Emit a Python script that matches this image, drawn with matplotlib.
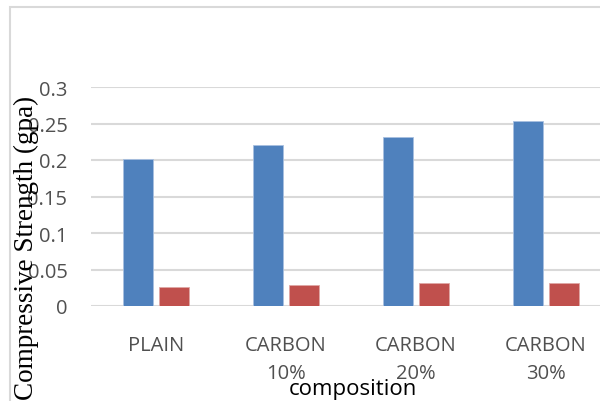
#!/usr/bin/env python3

import matplotlib.pyplot as plt
from matplotlib.patches import Rectangle
import numpy as np

categories = ["PLAIN", "CARBON\n10%", "CARBON\n20%", "CARBON\n30%"]
strength_a = [0.201, 0.221, 0.232, 0.254]
strength_b = [0.026, 0.029, 0.032, 0.032]
yticks = [0, 0.05, 0.1, 0.15, 0.2, 0.25, 0.3]
yticklabels = ["0", "0.05", "0.1", "0.15", "0.2", "0.25", "0.3"]

plt.rcParams['font.family'] = ['Open Sans', 'DejaVu Sans']

fig = plt.figure(figsize=(6, 4.02), dpi=100)
ax = fig.add_axes([91/600, 1 - 307/402, 520/600, 219/402])

# outer chart frame, cut off at right and bottom
fig.patches.append(Rectangle((10/600, -0.1), 1.2, 1 - 8/402 + 0.1,
                             transform=fig.transFigure, fill=False,
                             edgecolor='#d9d9d9', linewidth=1.5))

x = np.arange(len(categories))
w = 0.23
ax.bar(x - 0.138, strength_a, w, color='#4f81bd', edgecolor='#a8c0e0', linewidth=0.6, zorder=3)
ax.bar(x + 0.138, strength_b, w, color='#c0504d', edgecolor='#e0a8a6', linewidth=0.6, zorder=3)

ax.set_xlim(-0.5, 3.5)
ax.set_ylim(0, 0.3)
ax.set_yticks(yticks)
ax.set_yticklabels(yticklabels)
ax.set_xticks(x)
ax.set_xticklabels(categories, linespacing=1.5)
ax.yaxis.grid(True, color='#d9d9d9', linewidth=1.5, zorder=0)
ax.tick_params(axis='both', length=0, labelsize=14.5, labelcolor='#505050')
ax.tick_params(axis='x', pad=21)
ax.tick_params(axis='y', pad=17)
for s in ax.spines.values():
    s.set_visible(False)

ax.set_xlabel("composition", fontsize=16, color='black', va='center')
ax.xaxis.set_label_coords(0.504, -0.375)
ax.set_ylabel("Compressive Strength (gpa)", family=['Liberation Serif', 'DejaVu Serif'],
              fontsize=19.5, color='black', va='center')
ax.yaxis.set_label_coords(-0.125, 0.27)

plt.savefig('out.png', dpi=100)
